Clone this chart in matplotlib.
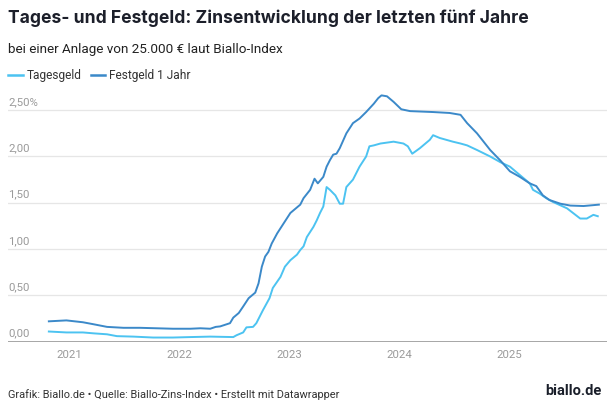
import matplotlib
matplotlib.use("Agg")
import matplotlib.pyplot as plt
from matplotlib.lines import Line2D

# Jahreszahl als Dezimaljahr, Zins in Prozent
fest_x = [2020.81, 2020.97, 2021.12, 2021.21, 2021.34, 2021.49, 2021.64, 2021.79,
          2021.94, 2022.10, 2022.19, 2022.28, 2022.33, 2022.37, 2022.46, 2022.49,
          2022.54, 2022.58, 2022.63, 2022.69, 2022.72, 2022.75, 2022.78, 2022.81,
          2022.84, 2022.89, 2022.95, 2023.01, 2023.10, 2023.13, 2023.19, 2023.23,
          2023.26, 2023.31, 2023.34, 2023.37, 2023.40, 2023.43, 2023.46, 2023.52,
          2023.58, 2023.64, 2023.70, 2023.77, 2023.81, 2023.84, 2023.89, 2023.95,
          2024.02, 2024.10, 2024.31, 2024.46, 2024.56, 2024.62, 2024.71, 2024.83,
          2024.92, 2025.01, 2025.10, 2025.19, 2025.25, 2025.31, 2025.37, 2025.47,
          2025.56, 2025.68, 2025.82]
fest_y = [0.22, 0.23, 0.21, 0.19, 0.16, 0.15, 0.15, 0.145,
          0.14, 0.14, 0.145, 0.14, 0.16, 0.165, 0.20, 0.26,
          0.31, 0.38, 0.47, 0.53, 0.63, 0.81, 0.92, 0.97,
          1.06, 1.17, 1.28, 1.39, 1.48, 1.55, 1.64, 1.76,
          1.71, 1.78, 1.89, 1.96, 2.02, 2.03, 2.09, 2.25,
          2.36, 2.41, 2.48, 2.57, 2.63, 2.66, 2.65, 2.59,
          2.51, 2.49, 2.48, 2.47, 2.45, 2.36, 2.25, 2.07,
          1.96, 1.84, 1.78, 1.71, 1.68, 1.58, 1.53, 1.49,
          1.47, 1.465, 1.48]

tages_x = [2020.81, 2020.97, 2021.12, 2021.22, 2021.34, 2021.43, 2021.58, 2021.76,
           2021.94, 2022.10, 2022.28, 2022.49, 2022.52, 2022.58, 2022.61, 2022.67,
           2022.70, 2022.76, 2022.82, 2022.85, 2022.92, 2022.96, 2023.01, 2023.07,
           2023.10, 2023.13, 2023.16, 2023.22, 2023.25, 2023.28, 2023.31, 2023.34,
           2023.37, 2023.42, 2023.46, 2023.49, 2023.52, 2023.58, 2023.64, 2023.70,
           2023.73, 2023.77, 2023.83, 2023.95, 2024.04, 2024.08, 2024.12, 2024.19,
           2024.28, 2024.31, 2024.37, 2024.49, 2024.56, 2024.62, 2024.71, 2024.83,
           2024.92, 2025.01, 2025.10, 2025.19, 2025.22, 2025.28, 2025.34, 2025.40,
           2025.53, 2025.65, 2025.71, 2025.77, 2025.81]
tages_y = [0.11, 0.10, 0.10, 0.09, 0.08, 0.06, 0.055, 0.045,
           0.045, 0.05, 0.055, 0.05, 0.07, 0.10, 0.155, 0.16,
           0.20, 0.34, 0.47, 0.58, 0.70, 0.81, 0.88, 0.94,
           0.99, 1.03, 1.13, 1.24, 1.31, 1.39, 1.46, 1.67,
           1.64, 1.58, 1.49, 1.49, 1.67, 1.75, 1.89, 2.00,
           2.11, 2.12, 2.14, 2.16, 2.14, 2.11, 2.03, 2.09,
           2.18, 2.23, 2.20, 2.16, 2.14, 2.12, 2.07, 2.00,
           1.94, 1.89, 1.80, 1.71, 1.64, 1.60, 1.55, 1.51,
           1.44, 1.33, 1.33, 1.37, 1.355]

years = [2021, 2022, 2023, 2024, 2025]
y_ticks = [0.0, 0.5, 1.0, 1.5, 2.0, 2.5]
y_labels = ["0,00", "0,50", "1,00", "1,50", "2,00", "2,50%"]

C_TAGES = "#4cc3f1"
C_FEST = "#3b89c9"
GRAU = "#9a9a9a"

plt.rcParams["font.family"] = ["Roboto", "DejaVu Sans"]

fig = plt.figure(figsize=(6.16, 4.12), dpi=100)
ax = fig.add_axes([8 / 616, 1 - 341.7 / 412, 599 / 616, 251.7 / 412])
ax.set_xlim(2020.438, 2025.894)
ax.set_ylim(0, 2.718)

for v in y_ticks[1:]:
    ax.axhline(v, color="#e6e6e6", lw=0.9, zorder=0)
for v, lab in zip(y_ticks, y_labels):
    ax.text(2020.438, v + 0.035, lab, color=GRAU, fontsize=8.2, va="bottom", ha="left")

ax.plot(tages_x, tages_y, color=C_TAGES, lw=1.4, zorder=3)
ax.plot(fest_x, fest_y, color=C_FEST, lw=1.4, zorder=4)
ax.axhline(0, color="#8c8c8c", lw=1.8, zorder=5)

ax.set_xticks(years)
ax.set_xticklabels([str(y) for y in years], color=GRAU, fontsize=8.2)
ax.tick_params(axis="x", length=0, pad=6)
ax.set_yticks([])
for s in ax.spines.values():
    s.set_visible(False)
ax.patch.set_alpha(0)

fig.text(8 / 616, 1 - 18 / 412, "Tages- und Festgeld: Zinsentwicklung der letzten fünf Jahre",
         fontsize=12.6, fontweight="bold", color="#1c1f2a", va="center", ha="left",
         family=["Inter", "Roboto", "DejaVu Sans"])
fig.text(8 / 616, 1 - 50 / 412, "bei einer Anlage von 25.000 € laut Biallo-Index",
         fontsize=9.7, color="#222222", va="center", ha="left")

leg = [Line2D([0], [0], color=C_TAGES, lw=1.8), Line2D([0], [0], color=C_FEST, lw=1.8)]
fig.legend(leg, ["Tagesgeld", "Festgeld 1 Jahr"], loc="center left",
           bbox_to_anchor=(0.0, 1 - 76 / 412), ncol=2, frameon=False, fontsize=8.6,
           handlelength=1.2, handletextpad=0.3, columnspacing=0.8, borderaxespad=0.3,
           labelcolor="#333333")

fig.text(8 / 616, 1 - 395 / 412,
         "Grafik: Biallo.de • Quelle: Biallo-Zins-Index • Erstellt mit Datawrapper",
         fontsize=7.9, color="#333333", va="center", ha="left")
fig.text(602 / 616, 1 - 391 / 412, "biallo.de", fontsize=10.5, fontweight="bold",
         color="#1a1f2a", va="center", ha="right")

fig.savefig("out.png", dpi=100, facecolor="white")
